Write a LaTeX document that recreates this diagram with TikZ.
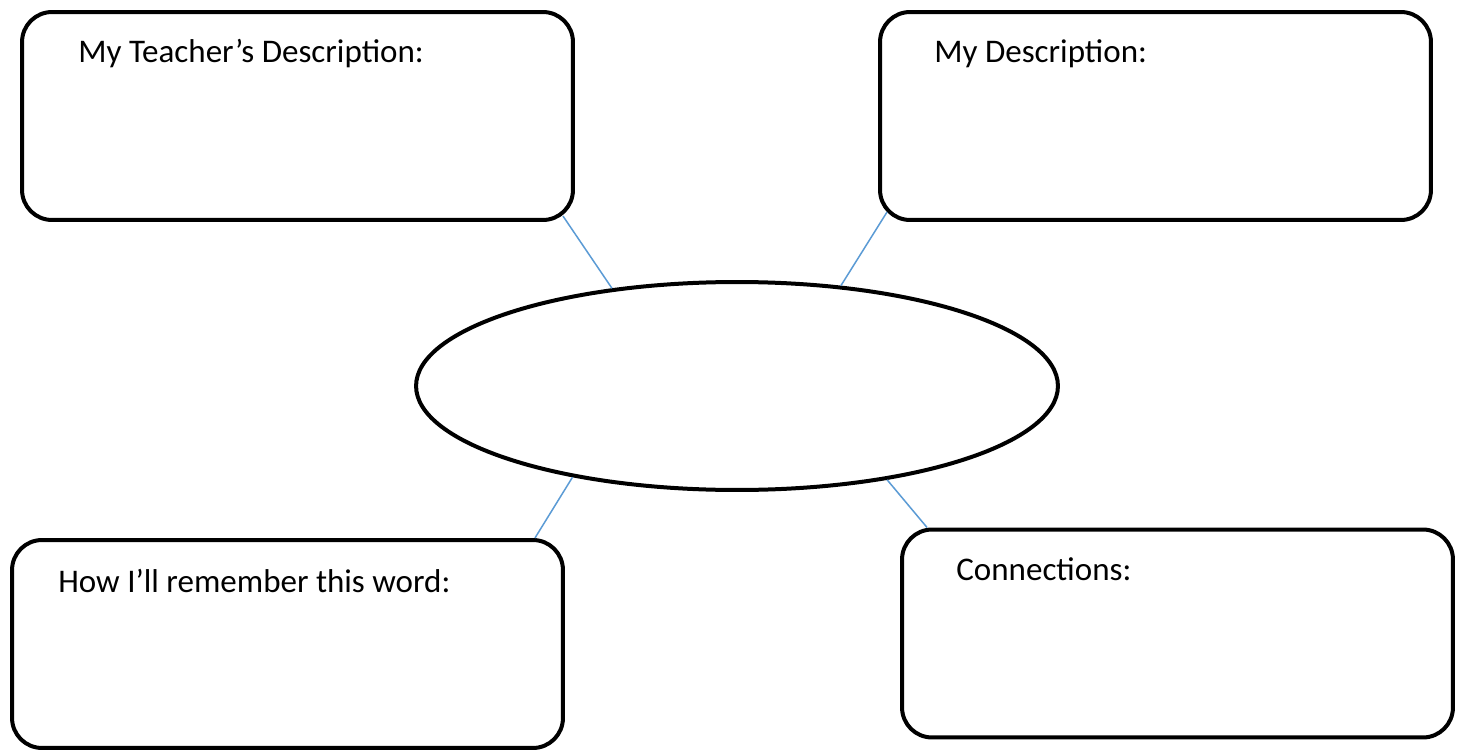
\documentclass[tikz,border=0pt]{standalone}
\usepackage{fontspec}
\setmainfont{Carlito}
\usetikzlibrary{shapes.geometric}
\definecolor{connblue}{RGB}{91,155,213}
\begin{document}
\begin{tikzpicture}[x=0.02cm,y=-0.02cm,
  card/.style={draw=black, line width=0.08cm, rounded corners=0.6cm, rectangle,
    minimum width=11.02cm, minimum height=4.16cm, inner sep=0pt, fill=white},
  hub/.style={draw=black, line width=0.08cm, ellipse, minimum width=12.84cm,
    minimum height=4.16cm, inner sep=0pt},
  lbl/.style={anchor=base west, inner sep=0pt, font=\fontsize{18.8}{22}\selectfont},
  conn/.style={draw=connblue, line width=0.03cm}]
\useasboundingbox (0,0) rectangle (1457,750);
\fill[white] (0,0) rectangle (1457,750);
\node[card] (tl) at (297.5,116) {};
\node[card] (tr) at (1155.5,116) {};
\node[card] (bl) at (287.5,644) {};
\node[card] (br) at (1177.5,633.5) {};
\node[hub] (ell) at (737,386) {};
\node[lbl] (tltext) at (78,63) {My Teacher’s Description:};
\node[lbl] (trtext) at (934,63) {My Description:};
\node[lbl] (bltext) at (58,592) {How I’ll remember this word:};
\node[lbl] (brtext) at (956,580) {Connections:};
\draw[conn] ([shift={(-12,-6)}]tl.south east) -- (ell.142.5);
\draw[conn] ([shift={(9,-10)}]tr.south west) -- (ell.44);
\draw[conn] ([xshift=-0.6cm]bl.north east) -- (ell.209);
\draw[conn] ([xshift=0.54cm]br.north west) -- (ell.328);
\end{tikzpicture}
\end{document}
